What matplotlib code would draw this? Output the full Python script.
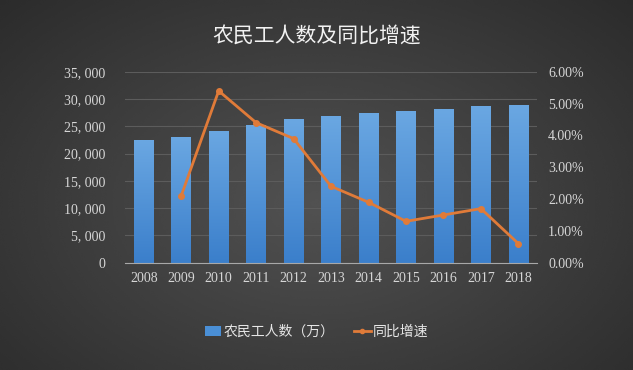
import numpy as np
import matplotlib.pyplot as plt
from matplotlib.ticker import FuncFormatter, MultipleLocator
from matplotlib.lines import Line2D
from matplotlib.patches import Patch
from matplotlib.colors import LinearSegmentedColormap

plt.rcParams['font.family'] = ['Noto Sans CJK SC', 'DejaVu Sans']

# data
years = ['2008', '2009', '2010', '2011', '2012', '2013',
         '2014', '2015', '2016', '2017', '2018']
workers = [22542, 22978, 24223, 25278, 26261, 26894,
           27395, 27747, 28171, 28652, 28836]
growth = [2.1, 5.4, 4.4, 3.9, 2.4, 1.9, 1.3, 1.5, 1.7, 0.6]  # 2009-2018

fig = plt.figure(figsize=(6.33, 3.70), dpi=100)

# radial grey background
bg = fig.add_axes([0, 0, 1, 1], zorder=-10)
yy, xx = np.mgrid[0:1:200j, 0:1:340j]
r = np.sqrt(((xx - 0.5) / 0.75) ** 2 + ((yy - 0.55) / 0.85) ** 2)
shade = np.clip(0.32 - 0.16 * r, 0.12, 0.32)
bg.imshow(shade, cmap='gray', vmin=0, vmax=1, aspect='auto',
          extent=[0, 1, 0, 1], interpolation='bicubic')
bg.axis('off')

ax = fig.add_axes([0.1975, 0.290, 0.651, 0.516])
ax.patch.set_alpha(0)
x = np.arange(len(years))

bars = ax.bar(x, workers, width=0.52, color='#4a8fd6', zorder=2)
# vertical gradient on each bar
grad = np.linspace(0, 1, 100).reshape(-1, 1)
bar_cmap = LinearSegmentedColormap.from_list('b', ['#3b7fcb', '#6aa7e2'])
for b in bars:
    x0, y0 = b.get_x(), b.get_y()
    im = ax.imshow(grad, cmap=bar_cmap, aspect='auto', origin='lower',
                   extent=[x0, x0 + b.get_width(), y0, y0 + b.get_height()],
                   zorder=2.1)
    im.set_clip_path(b)

ax.set_xlim(-0.5, 10.5)
ax.set_ylim(0, 35000)
ax.yaxis.set_major_locator(MultipleLocator(5000))
ax.yaxis.set_major_formatter(FuncFormatter(lambda v, p: f'{int(v):,}'.replace(',', ', ')))
ax.grid(axis='y', color='#5c5c5c', linewidth=0.8, zorder=0)
ax.set_xticks(x)
ax.set_xticklabels(years)

ax2 = ax.twinx()
ax2.set_ylim(0, 6)
ax2.yaxis.set_major_locator(MultipleLocator(1))
ax2.yaxis.set_major_formatter(FuncFormatter(lambda v, p: f'{v:.2f}%'))
ax2.plot(x[1:], growth, color='#e07b39', linewidth=2,
         marker='o', markersize=4, zorder=5)

for a in (ax, ax2):
    for s in a.spines.values():
        s.set_visible(False)
    a.tick_params(length=0, colors='#d6d6d6', labelsize=10)
    for lbl in a.get_xticklabels() + a.get_yticklabels():
        lbl.set_family(['Liberation Serif', 'DejaVu Serif'])
ax.spines['bottom'].set_visible(True)
ax.spines['bottom'].set_color('#a8a8a8')
ax.tick_params(axis='y', pad=14)
ax.tick_params(axis='x', pad=7)
ax2.tick_params(axis='y', pad=8)

fig.text(0.5, 0.90, '农民工人数及同比增速', ha='center', va='center',
         fontsize=15, color='#f2f2f2')

handles = [Patch(facecolor='#4a8fd6'),
           Line2D([0], [0], color='#e07b39', linewidth=2, marker='o', markersize=3)]
fig.legend(handles, ['农民工人数（万）', '同比增速'], loc='center',
           bbox_to_anchor=(0.5, 0.103), ncol=2, frameon=False,
           fontsize=10, labelcolor='#e6e6e6', handlelength=1.2,
           handletextpad=0.15, columnspacing=1.4)

fig.savefig('out.png', dpi=100)
